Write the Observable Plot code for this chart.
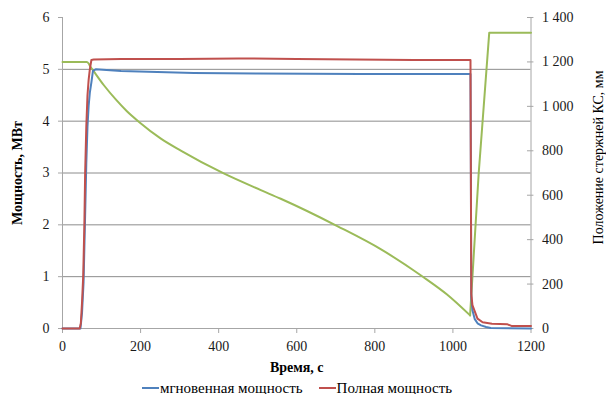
<!DOCTYPE html>
<html>
<head>
<meta charset="utf-8">
<script src="https://cdn.jsdelivr.net/npm/d3@7"></script>
<script src="https://cdn.jsdelivr.net/npm/@observablehq/plot@0.6"></script>
<style>
  html, body { margin: 0; padding: 0; background: #fff; }
  #chart { width: 606px; height: 394px; position: relative; font-family: "Liberation Serif", "DejaVu Serif", serif; }
  #chart svg text { font-family: "Liberation Serif", "DejaVu Serif", serif; }
  #legend { height: 18px; padding-top: 3px; display: flex; justify-content: center; align-items: center; font-size: 15px; color: #000; padding-right: 12px; }
  .item { display: flex; align-items: center; margin: 0 8px; }
  .sw { width: 17px; height: 2px; margin-right: 1px; }
</style>
</head>
<body>
<div id="chart"></div>
<script>
// Time axis (s) and power series (MW)
const blueT = [0, 46, 50, 54, 58, 61, 64, 67, 70, 74, 78, 85, 150, 336, 500, 764, 1045, 1046, 1047, 1050, 1056, 1063, 1072, 1085, 1097, 1200];
const blueV = [0, 0, 0.3, 0.9, 2.2, 3.2, 3.9, 4.3, 4.55, 4.75, 4.97, 5.0, 4.97, 4.93, 4.92, 4.91, 4.91, 3.0, 0.6, 0.35, 0.18, 0.1, 0.06, 0.03, 0.01, 0.0];

const redT = [0, 44, 47, 50, 53, 56, 58, 61, 64, 67, 70, 74, 80, 150, 300, 450, 600, 750, 900, 1045, 1046, 1047, 1050, 1055, 1063, 1076, 1100, 1140, 1150, 1200];
const redV = [0, 0, 0.1, 0.5, 1.0, 2.0, 3.0, 3.9, 4.5, 4.8, 5.0, 5.18, 5.19, 5.2, 5.2, 5.21, 5.2, 5.19, 5.18, 5.18, 3.0, 0.67, 0.45, 0.35, 0.19, 0.12, 0.09, 0.08, 0.05, 0.05];

// Control rod position (mm), right axis: insertion phase then withdrawal phase
const rodDownT = [0, 62, 67, 72, 77, 106, 137, 165, 196, 252, 303, 413, 508, 559, 705, 816, 923, 985, 1044];
const rodDownV = [1200, 1200, 1193, 1177, 1165, 1095, 1030, 978, 930, 855, 801, 698, 623, 584, 460, 356, 233, 153, 59];
const rodUpT = [1044, 1066, 1093, 1200];
const rodUpV = [59, 698, 1331, 1331];

// Ticks
const xTicks = [0, 200, 400, 600, 800, 1000, 1200];
const yTicks = [0, 1, 2, 3, 4, 5, 6];
const gridTicks = [1, 2, 3, 4, 5];
const y2Ticks = [0, 200, 400, 600, 800, 1000, 1200, 1400];
const y2Labels = ["0", "200", "400", "600", "800", "1 000", "1 200", "1 400"];

const seriesNames = ["мгновенная мощность", "Полная мощность"];
const colors = { blue: "#4F81BD", red: "#C0504D", green: "#9BBB59" };

const Y2MAX = 1400, YMAX = 6;
const toY = mm => mm * YMAX / Y2MAX;

const blue = blueT.map((t, i) => ({ t, v: blueV[i] }));
const red = redT.map((t, i) => ({ t, v: redV[i] }));
const rodDown = rodDownT.map((t, i) => ({ t, v: toY(rodDownV[i]) }));
const rodUp = rodUpT.map((t, i) => ({ t, v: toY(rodUpV[i]) }));

const fontFam = "'Liberation Serif', 'DejaVu Serif', serif";

const plot = Plot.plot({
  width: 606,
  height: 376,
  marginLeft: 62,
  marginRight: 75.5,
  marginTop: 17,
  marginBottom: 48,
  style: { fontFamily: fontFam, fontSize: "14px", color: "#1a1a1a", background: "#fff", overflow: "visible" },
  x: { domain: [0, 1200] },
  y: { domain: [0, 6] },
  marks: [
    Plot.ruleY(gridTicks, { stroke: "#8c8c8c", strokeWidth: 1 }),
    Plot.ruleX([0], { stroke: "#a6a6a6", strokeWidth: 1 }),
    Plot.ruleX([1200], { stroke: "#a6a6a6", strokeWidth: 1 }),
    Plot.ruleY([0], { stroke: "#a6a6a6", strokeWidth: 1 }),
    Plot.axisX({ ticks: xTicks, tickSize: 5, tickPadding: 8, tickFormat: d => String(d), label: null, stroke: "#a6a6a6", fontSize: 14 }),
    Plot.axisY({ anchor: "left", ticks: yTicks, tickSize: 4, tickPadding: 9, tickFormat: d => String(d), label: null, stroke: "#a6a6a6", fontSize: 14 }),
    Plot.axisY({ anchor: "right", ticks: y2Ticks.map(toY), tickSize: 0, tickPadding: 11,
      tickFormat: (d, i) => y2Labels[i], label: null, fontSize: 14 }),
    Plot.ruleY(y2Ticks.map(toY), { x1: 1191, x2: 1207.5, stroke: "#a6a6a6", strokeWidth: 1 }),
    Plot.line(rodDown, { x: "t", y: "v", stroke: colors.green, strokeWidth: 2, curve: "monotone-x" }),
    Plot.line(rodUp, { x: "t", y: "v", stroke: colors.green, strokeWidth: 2 }),
    Plot.line(blue, { x: "t", y: "v", stroke: colors.blue, strokeWidth: 2 }),
    Plot.line(red, { x: "t", y: "v", stroke: colors.red, strokeWidth: 2 }),
    Plot.text(["Мощность, МВт"], { x: -115, y: 3, rotate: -90, fontWeight: "bold", fontSize: 14, fill: "#000", textAnchor: "middle", lineAnchor: "middle" }),
    Plot.text(["Положение стержней КС, мм"], { x: 1373, y: 3.3, rotate: -90, fontSize: 14, fill: "#000", textAnchor: "middle", lineAnchor: "middle" }),
    Plot.text(["Время, с"], { x: 600, y: -0.75, fontWeight: "bold", fontSize: 14, fill: "#000", textAnchor: "middle", lineAnchor: "middle" })
  ]
});

const chart = document.getElementById("chart");
chart.appendChild(plot);

const legend = document.createElement("div");
legend.id = "legend";
legend.innerHTML = `
  <span class="item"><span class="sw" style="background:${colors.blue}"></span>${seriesNames[0]}</span>
  <span class="item"><span class="sw" style="background:${colors.red}"></span>${seriesNames[1]}</span>`;
chart.appendChild(legend);
</script>
</body>
</html>
